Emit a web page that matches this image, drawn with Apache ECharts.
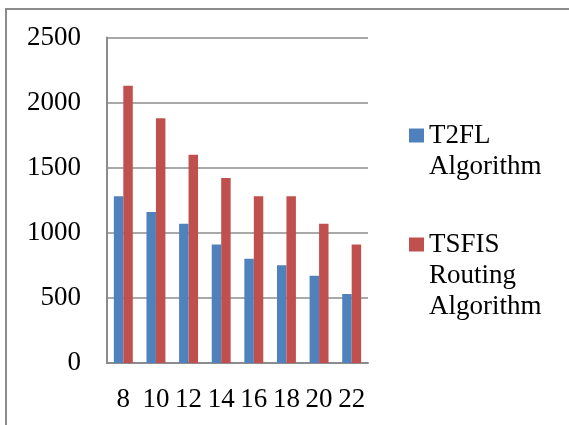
<!DOCTYPE html>
<html>
<head>
<meta charset="utf-8">
<script src="https://cdn.jsdelivr.net/npm/echarts@6/dist/echarts.min.js"></script>
<style>html,body{margin:0;padding:0;background:#fff}#c{width:569px;height:425px}</style>
</head>
<body>
<div id="c"></div>
<script>
const categories = ['8', '10', '12', '14', '16', '18', '20', '22'];
const t2flValues = [1280, 1160, 1070, 910, 800, 750, 670, 530];
const tsfisValues = [2130, 1880, 1600, 1420, 1280, 1280, 1070, 910];
const seriesNames = ['T2FL\nAlgorithm', 'TSFIS\nRouting\nAlgorithm'];
const yTicks = { min: 0, max: 2500, interval: 500 };

const FONT = 'Liberation Serif';
const chart = echarts.init(document.getElementById('c'), null, { renderer: 'canvas' });
const legendText = { fontFamily: FONT, fontSize: 27, color: '#000', lineHeight: 31 };
function topSquareIcon(h) {
  return 'path://M0,0h0.01v0.01h-0.01zM0,8.5h15v14h-15zM0,' + (h - 0.01) + 'h0.01v0.01h-0.01z';
}
chart.setOption({
  animation: false,
  backgroundColor: '#fff',
  graphic: [{
    type: 'rect', silent: true, z: -1,
    shape: { x: 6, y: 9, width: 620, height: 460 },
    style: { fill: 'none', stroke: '#8c8c8c', lineWidth: 2 }
  }],
  grid: { left: 107, right: 201, top: 37.5, bottom: 62, containLabel: false },
  xAxis: {
    type: 'category', data: categories,
    axisLine: { show: true, lineStyle: { color: '#8c8c8c', width: 2 } },
    axisTick: { show: false },
    axisLabel: { interval: 0, fontFamily: FONT, fontSize: 27, color: '#000', margin: 23 },
    splitLine: { show: false }
  },
  yAxis: {
    type: 'value', min: yTicks.min, max: yTicks.max, interval: yTicks.interval,
    axisLine: { show: true, lineStyle: { color: '#8c8c8c', width: 2 } },
    axisTick: { show: false },
    axisLabel: { fontFamily: FONT, fontSize: 27, color: '#000', margin: 26, formatter: function (v) { return String(v); } },
    splitLine: { show: true, lineStyle: { color: '#8c8c8c', width: 1.5 } }
  },
  legend: [{
    orient: 'vertical', left: 409, top: 120, padding: 0,
    itemWidth: 15, itemHeight: 62, icon: topSquareIcon(62),
    data: [seriesNames[0]],
    textStyle: legendText
  }, {
    orient: 'vertical', left: 409, top: 229, padding: 0,
    itemWidth: 15, itemHeight: 93, icon: topSquareIcon(93),
    data: [seriesNames[1]],
    textStyle: legendText
  }],
  series: [{
    name: seriesNames[0], type: 'bar', data: t2flValues,
    itemStyle: { color: '#4F81BD' }, barGap: 0, barCategoryGap: '42%'
  }, {
    name: seriesNames[1], type: 'bar', data: tsfisValues,
    itemStyle: { color: '#C0504D' }, barGap: 0, barCategoryGap: '42%'
  }]
});
</script>
</body>
</html>
